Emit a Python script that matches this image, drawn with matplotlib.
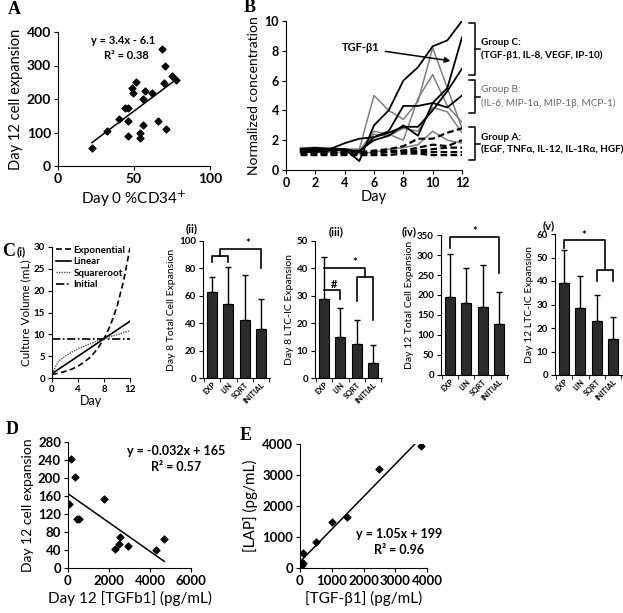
import numpy as np
import matplotlib
matplotlib.use("Agg")
import matplotlib.pyplot as plt

plt.rcParams['font.family'] = ['Lato', 'DejaVu Sans']

# ---- data ----
# A: day 0 %CD34+ vs day 12 expansion
cd34_day0 = [22.3, 32.4, 40.1, 44.3, 46.0, 46.2, 45.8, 48.9, 49.1, 51.1, 56.2, 56.2,
             57.5, 54.0, 54.0, 61.9, 65.7, 68.7, 70.5, 70.0, 70.9, 75.1, 77.9]
expansion_d12 = [53, 105, 141, 172, 172, 134, 90, 234, 218, 251, 200, 123,
                 224, 100, 85, 219, 135, 349, 299, 249, 110, 269, 257]
fit_a = (3.4, -6.1)

# B: normalized cytokine concentrations
days_b = list(range(1, 13))
group_c = [
    [1.4, 1.5, 1.4, 1.4, 0.6, 3.0, 4.0, 6.0, 6.9, 8.3, 8.7, 10.0],
    [1.3, 1.3, 1.4, 1.3, 1.3, 2.0, 2.3, 3.0, 2.3, 4.5, 5.5, 8.9],
    [1.4, 1.4, 1.4, 1.8, 2.1, 2.2, 2.5, 2.9, 2.9, 4.0, 5.3, 6.8],
    [1.2, 1.2, 1.3, 1.4, 1.2, 2.2, 2.6, 4.3, 4.3, 4.5, 4.2, 5.0],
]
group_b = [
    [1.5, 1.5, 1.5, 1.4, 1.4, 5.0, 4.0, 3.4, 4.6, 8.2, 5.5, 2.8],
    [1.4, 1.4, 1.4, 1.4, 1.3, 2.6, 2.4, 2.0, 4.8, 6.4, 4.3, 3.2],
    [1.3, 1.3, 1.4, 1.3, 1.2, 2.4, 2.3, 2.8, 2.6, 4.2, 3.9, 2.5],
    [1.2, 1.2, 1.2, 1.2, 1.1, 1.2, 1.4, 1.5, 1.7, 2.6, 2.0, 1.8],
]
group_a = [
    [1.2, 1.2, 1.2, 1.2, 1.2, 1.3, 1.4, 1.6, 2.1, 2.1, 2.5, 2.8],
    [1.2, 1.2, 1.1, 1.1, 1.1, 1.2, 1.3, 1.3, 1.5, 1.7, 1.6, 2.0],
    [1.1, 1.1, 1.1, 1.1, 1.1, 1.2, 1.2, 1.3, 1.3, 1.4, 1.5, 1.5],
    [1.1, 1.1, 1.1, 1.1, 1.1, 1.1, 1.2, 1.2, 1.2, 1.2, 1.2, 1.2],
    [1.0, 1.0, 1.0, 1.0, 1.0, 1.0, 1.0, 1.1, 1.1, 1.0, 1.0, 1.0],
]
group_names = ["Group C:\n(TGF-\u03b21, IL-8, VEGF, IP-10)",
               "Group B:\n(IL-6, MIP-1\u03b1, MIP-1\u03b2, MCP-1)",
               "Group A:\n(EGF, TNF\u03b1, IL-12, IL-1R\u03b1, HGF)"]

# C(i): culture volume schedules
days_c = list(range(0, 13))
vol_exponential = [0.8, 1.1, 1.5, 2.0, 2.7, 3.7, 4.9, 6.7, 9.0, 12.1, 16.4, 22.1, 29.8]
vol_linear = [1, 2, 3, 4, 5, 6, 7, 8, 9, 10, 11, 12, 13]
vol_sqrt = [1.0, 3.8, 5.0, 5.9, 6.7, 7.3, 7.9, 8.5, 9.0, 9.5, 9.9, 10.4, 10.8]
vol_initial = [9, 9, 9, 9, 9, 9, 9, 9, 9, 9, 9, 9, 9]

# C(ii)-(v): bar charts
conditions = ["EXP", "LIN", "SQRT", "INITIAL"]
d8_total = [63, 54, 42, 36]
d8_total_err = [74, 81, 75, 58]
d8_ltc = [29, 15, 12.3, 5.3]
d8_ltc_err = [44, 25.5, 21, 12]
d12_total = [195, 180, 170, 128]
d12_total_err = [303, 267, 275, 208]
d12_ltc = [39.3, 28.7, 23, 15.3]
d12_ltc_err = [53, 42, 34, 24.7]

# D: TGFb1 vs day 12 expansion
tgf_d12 = [130, 357, 33, 430, 553, 1756, 2309, 2504, 2537, 2943, 4293, 4700]
expansion_d = [243, 203, 143, 110, 110, 153, 42, 54, 70, 50, 41, 65]
fit_d = (-0.032, 165)

# E: TGF-b1 vs LAP
tgf_e = [3811, 2498, 1490, 998, 494, 105, 80, 50]
lap_e = [3945, 3194, 1655, 1494, 829, 470, 160, 110]
fit_e = (1.05, 199)

# ---- layout helpers ----
W, H = 623, 613
def rect(l, t, r, b):
    return [l / W, 1 - b / H, (r - l) / W, (b - t) / H]

def style(ax, fs):
    for s in ['top', 'right']:
        ax.spines[s].set_visible(False)
    ax.tick_params(direction='out', length=3, width=0.8, labelsize=fs, pad=2)
    plt.setp(ax.get_xticklabels() + ax.get_yticklabels(), fontweight='bold')

fig = plt.figure(figsize=(6.23, 6.13), dpi=100)
ov = fig.add_axes([0, 0, 1, 1])
ov.set_xlim(0, W)
ov.set_ylim(H, 0)
ov.axis('off')

letter = dict(family=['Liberation Serif'], fontweight='bold', fontsize=13, ha='left', va='center')
ov.text(8, 10, "A", **letter)
ov.text(244, 7, "B", **letter)
ov.text(2, 252, "C", **letter)
ov.text(6, 430, "D", **letter)
ov.text(240, 435, "E", **letter)

# ---- A ----
axA = fig.add_axes(rect(58, 32, 210, 166))
axA.scatter(cd34_day0, expansion_d12, marker='D', s=12, color='black', zorder=3)
xa = np.array([min(cd34_day0), max(cd34_day0)])
axA.plot(xa, fit_a[0] * xa + fit_a[1], color='black', lw=1.1)
axA.set_xlim(0, 100)
axA.set_ylim(0, 400)
axA.set_xticks([0, 50, 100])
axA.set_yticks([0, 100, 200, 300, 400])
style(axA, 10)
axA.set_xlabel("Day 0 %CD34$^{+}$", fontsize=11, labelpad=3)
axA.set_ylabel("Day 12 cell expansion", fontsize=10.5, labelpad=3)
axA.text(0.22, 0.91, "y = 3.4x - 6.1", transform=axA.transAxes, fontsize=8, fontweight='bold', ha='left')
axA.text(0.3, 0.8, "R\u00b2 = 0.38", transform=axA.transAxes, fontsize=8, fontweight='bold', ha='left')

# ---- B ----
axB = fig.add_axes(rect(286, 21, 462, 170))
for s in group_b:
    axB.plot(days_b, s, color='#808080', lw=1.1)
for s in group_a:
    axB.plot(days_b, s, color='black', lw=1.6, ls=(0, (3, 1.5)))
for s in group_c:
    axB.plot(days_b, s, color='black', lw=1.3)
axB.annotate("TGF-\u03b21", xy=(11.4, 7.3), xytext=(5.1, 8.2), fontsize=8, fontweight='bold',
             ha='center', va='center',
             arrowprops=dict(arrowstyle='-|>', color='black', lw=1.1, mutation_scale=8))
axB.set_xlim(0, 12)
axB.set_ylim(0, 10)
axB.set_xticks(range(0, 13, 2))
axB.set_yticks(range(0, 11, 2))
style(axB, 9)
axB.set_xlabel("Day", fontsize=10.5, labelpad=1)
axB.set_ylabel("Normalized concentration", fontsize=10, labelpad=3)

brackets_b = [(23, 75), (80, 113), (127, 160)]
colors_b = ['black', '#666666', 'black']
weights_b = ['bold', 'normal', 'bold']
for (t, b), name, c, w in zip(brackets_b, group_names, colors_b, weights_b):
    m = (t + b) / 2
    ov.plot([469, 475, 475, 469], [t, t, b, b], color='black', lw=1.1)
    ov.plot([475, 480], [m, m], color='black', lw=1.1)
    ov.text(481, m, name, color=c, fontweight=w, fontsize=7.2, ha='left', va='center', linespacing=1.5)

# ---- C(i) ----
axCi = fig.add_axes(rect(52, 247, 130, 378))
axCi.plot(days_c, vol_exponential, color='black', lw=1.2, ls=(0, (3.5, 2)), label="Exponential")
axCi.plot(days_c, vol_linear, color='black', lw=1.2, label="Linear")
axCi.plot(days_c, vol_sqrt, color='#555555', lw=1.0, ls=(0, (1, 0.8)), label="Squareroot")
axCi.plot(days_c, vol_initial, color='black', lw=1.2, ls=(0, (5, 1.5, 1, 1.5)), label="Initial")
axCi.set_xlim(0, 12)
axCi.set_ylim(0, 30)
axCi.set_xticks([0, 4, 8, 12])
axCi.set_yticks(range(0, 31, 5))
style(axCi, 7)
axCi.set_xlabel("Day", fontsize=9, labelpad=1)
axCi.set_ylabel("Culture Volume (mL)", fontsize=8.5, labelpad=2)
leg = axCi.legend(loc='upper left', bbox_to_anchor=(0.0, 1.04), frameon=False, fontsize=7,
                  handlelength=1.6, handletextpad=0.2, labelspacing=0.25, borderaxespad=0)
plt.setp(leg.get_texts(), fontweight='bold')
ov.text(17, 252, "(i)", fontsize=8, fontweight='bold', ha='left', va='center')

# ---- C(ii)-(v) ----
def bar_panel(box, vals, errs, ymax, ystep, ylabel, tag, tag_xy, sig):
    ax = fig.add_axes(rect(*box))
    x = np.arange(len(vals))
    up = np.array(errs) - np.array(vals)
    ax.bar(x, vals, width=0.62, color='#2b2b2b', edgecolor='black', lw=0.8,
           yerr=[np.zeros(len(vals)), up], capsize=2.2,
           error_kw=dict(lw=1.0, capthick=1.0, ecolor='black'))
    ax.set_xlim(-0.55, 3.55)
    ax.set_ylim(0, ymax)
    ax.set_yticks(np.arange(0, ymax + 0.1, ystep))
    ax.set_xticks(x)
    ax.set_xticklabels(conditions)
    style(ax, 7)
    ax.tick_params(axis='x', length=0, labelsize=5.5, pad=2)
    ax.set_xticks(np.arange(-0.5, 4, 1), minor=True)
    ax.tick_params(axis='x', which='minor', length=3, direction='out')
    plt.setp(ax.get_xticklabels(), rotation=45, ha='right', rotation_mode='anchor')
    ax.set_ylabel(ylabel, fontsize=7.5, labelpad=2)
    for seg in sig['lines']:
        ax.plot(seg[0], seg[1], color='black', lw=1.2, clip_on=False)
    for sx, sy, s in sig['marks']:
        ax.text(sx, sy, s, fontsize=8, fontweight='bold', ha='center', va='bottom')
    ov.text(tag_xy[0], tag_xy[1], tag, fontsize=8, fontweight='bold', ha='left', va='center')
    return ax

sig_ii = dict(lines=[([0, 0, 1, 1], [85, 89, 89, 85]),
                     ([0.5, 0.5, 3, 3], [89, 94, 94, 80])],
              marks=[(2.2, 94, "*")])
sig_iii = dict(lines=[([0, 1, 1], [32, 32, 29]),
                      ([0, 2.5, 2.5], [40, 40, 37]),
                      ([2, 2, 3, 3], [28, 37, 37, 21])],
               marks=[(1.9, 40, "*"), (0.6, 32, "#")])
sig_iv = dict(lines=[([0, 0, 3, 3], [318, 345, 345, 255])],
              marks=[(1.5, 344, "*")])
sig_v = dict(lines=[([0, 0, 2.5, 2.5], [54, 57.4, 57.4, 44.7]),
                    ([2, 2, 3, 3], [40, 44.7, 44.7, 40])],
             marks=[(1.2, 57, "*")])

bar_panel((203, 241, 270, 378), d8_total, d8_total_err, 100, 20,
          "Day 8 Total Cell Expansion", "(ii)", (186, 229), sig_ii)
bar_panel((315, 241, 382, 378), d8_ltc, d8_ltc_err, 50, 10,
          "Day 8 LTC-IC Expansion", "(iii)", (329, 232), sig_iii)
bar_panel((441, 235, 508, 375), d12_total, d12_total_err, 350, 50,
          "Day 12 Total Cell Expansion", "(iv)", (402, 232), sig_iv)
bar_panel((555, 234, 622, 375), d12_ltc, d12_ltc_err, 60, 10,
          "Day 12 LTC-IC Expansion", "(v)", (543, 226), sig_v)

# ---- D ----
axD = fig.add_axes(rect(68, 442, 191, 568))
axD.scatter(tgf_d12, expansion_d, marker='D', s=12, color='black', zorder=3)
xd = np.array([0, max(tgf_d12)])
axD.plot(xd, fit_d[0] * xd + fit_d[1], color='black', lw=1.1)
axD.set_xlim(0, 6000)
axD.set_ylim(0, 280)
axD.set_xticks(range(0, 6001, 2000))
axD.set_yticks(range(0, 281, 40))
style(axD, 9.5)
axD.set_xlabel("Day 12 [TGFb1] (pg/mL)", fontsize=11, labelpad=3)
axD.set_ylabel("Day 12 cell expansion", fontsize=10, labelpad=3)
axD.text(0.88, 0.9, "y = -0.032x + 165", transform=axD.transAxes, fontsize=9, fontweight='bold', ha='center')
axD.text(0.88, 0.77, "R\u00b2 = 0.57", transform=axD.transAxes, fontsize=9, fontweight='bold', ha='center')

# ---- E ----
axE = fig.add_axes(rect(300, 444, 427, 568))
axE.scatter(tgf_e, lap_e, marker='D', s=12, color='black', zorder=3)
xe = np.array([0, max(tgf_e) * 0.96])
axE.plot(xe, fit_e[0] * xe + fit_e[1], color='black', lw=1.1)
axE.set_xlim(0, 4000)
axE.set_ylim(0, 4000)
axE.set_xticks(range(0, 4001, 1000))
axE.set_yticks(range(0, 4001, 1000))
style(axE, 9.5)
axE.set_xlabel("[TGF-\u03b21] (pg/mL)", fontsize=11, labelpad=3)
axE.set_ylabel("[LAP] (pg/mL)", fontsize=11, labelpad=3)
axE.text(0.78, 0.24, "y = 1.05x + 199", transform=axE.transAxes, fontsize=9, fontweight='bold', ha='center')
axE.text(0.78, 0.11, "R\u00b2 = 0.96", transform=axE.transAxes, fontsize=9, fontweight='bold', ha='center')

fig.savefig("out.png", dpi=100)
